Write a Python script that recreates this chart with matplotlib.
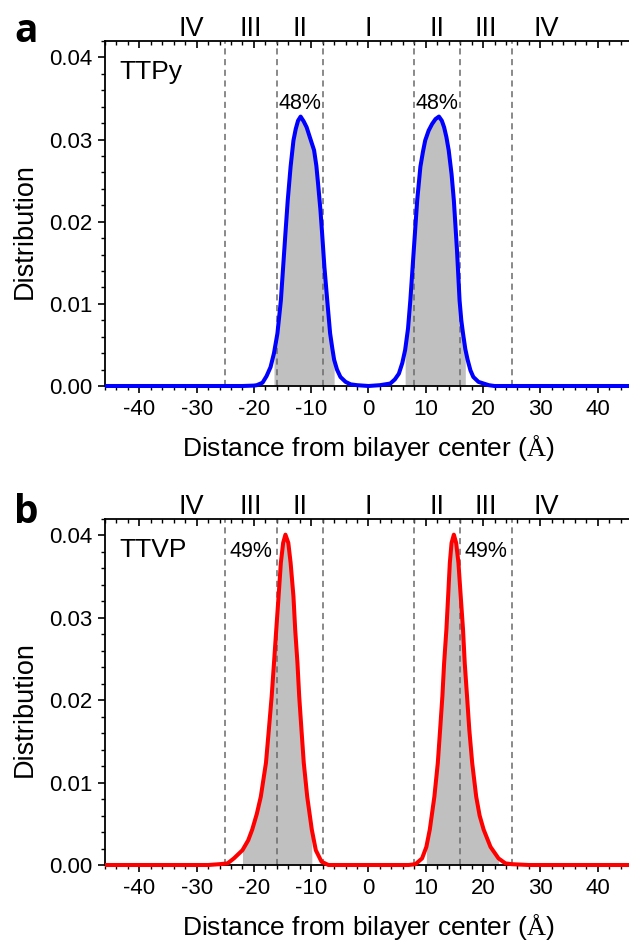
import numpy as np
import matplotlib
matplotlib.use('Agg')
import matplotlib.pyplot as plt
from matplotlib.ticker import MultipleLocator, FormatStrFormatter

plt.rcParams['font.family'] = ['Liberation Sans', 'DejaVu Sans']
plt.rcParams['mathtext.fontset'] = 'custom'
plt.rcParams['mathtext.rm'] = 'Liberation Serif'
plt.rcParams['axes.unicode_minus'] = False

# ---- data ----
# panel a: TTPy
x_a = [-46, -30, -22, -20, -19.5, -18.5, -17.8, -17.1, -16.5, -15.9, -15.3, -14.9, -14.5,
       -14.1, -13.6, -13.1, -12.7, -12.3, -11.85, -11.3, -10.8, -10.2, -9.5, -9.1, -8.8,
       -8.4, -8.1, -7.7, -7.2, -6.7, -6.3, -6.0, -5.5, -4.9, -4.0, -3.1, -2.0, 0,
       2.0, 3.8, 4.6, 5.3, 5.9, 6.4, 6.9, 7.3, 7.9, 8.5, 9.06, 9.5, 9.9, 10.5, 11.1,
       11.7, 12.3, 12.8, 13.2, 13.6, 14.0, 14.5, 14.9, 15.45, 15.9, 16.2, 16.5, 16.9,
       17.3, 17.8, 18.3, 19.2, 20.1, 21.0, 22, 30, 46]
y_a = [0, 0, 0, 0.00005, 0.0001, 0.0004, 0.0012, 0.0023, 0.0040, 0.0064, 0.0104, 0.0145, 0.0186,
       0.0226, 0.0267, 0.0299, 0.0313, 0.0323, 0.0328, 0.0322, 0.0315, 0.0302, 0.0287, 0.0268, 0.0246,
       0.0215, 0.0186, 0.0145, 0.0104, 0.0064, 0.0045, 0.0032, 0.0020, 0.0011, 0.0005, 0.0002, 0.0001, 0,
       0.0001, 0.0003, 0.0008, 0.0015, 0.0028, 0.0044, 0.0070, 0.0104, 0.0165, 0.0226, 0.0267, 0.0285, 0.0299, 0.0311, 0.0319,
       0.0325, 0.0328, 0.0323, 0.0315, 0.0303, 0.0287, 0.0258, 0.0226, 0.0165, 0.0104, 0.0080, 0.0064, 0.0045,
       0.0032, 0.0019, 0.0011, 0.0005, 0.0003, 0.0001, 0, 0, 0]
shade_a = [(-16.6, -5.8), (6.0, 16.9)]
pct_a = ['48%', '48%']
pct_a_x = [-12, 12]
pct_a_y = [0.0344, 0.0344]

# panel b: TTVP
x_b = [-46, -28, -26, -24.6, -23.5, -22.0, -21.0, -20.3, -19.5, -18.8, -17.9, -17.4, -16.9,
       -16.5, -16.1, -15.7, -15.3, -14.9, -14.5, -14.0, -13.6, -13.1, -12.8, -12.4, -12.1,
       -11.7, -11.3, -10.7, -9.9, -9.2, -8.2, -7.0, 0,
       7.0, 8.2, 9.35, 10.1, 10.7, 11.5, 12.1, 12.5, 12.9, 13.2, 13.6, 13.9, 14.2, 14.5,
       14.9, 15.3, 15.7, 16.1, 16.5, 16.8, 17.2, 17.6, 18.1, 18.8, 19.4, 20.1, 21.3, 22.7,
       23.9, 25.0, 28, 46]
y_b = [0, 0, 0.0001, 0.0002, 0.0008, 0.0018, 0.0030, 0.0043, 0.0062, 0.0083, 0.0124, 0.0164, 0.0205,
       0.0245, 0.0286, 0.0326, 0.0367, 0.0391, 0.0401, 0.0391, 0.0367, 0.0326, 0.0286, 0.0245, 0.0205,
       0.0164, 0.0124, 0.0083, 0.0043, 0.0018, 0.0004, 0, 0,
       0, 0.0001, 0.0008, 0.0022, 0.0043, 0.0083, 0.0124, 0.0164, 0.0205, 0.0245, 0.0286, 0.0326, 0.0367, 0.0391,
       0.0401, 0.0391, 0.0367, 0.0326, 0.0286, 0.0245, 0.0205, 0.0164, 0.0124, 0.0083, 0.0060, 0.0043, 0.0022, 0.0008,
       0.0002, 0.0001, 0, 0]
shade_b = [(-22.2, -9.3), (9.6, 22.7)]
pct_b = ['49%', '49%']
pct_b_x = [-20.5, 20.5]
pct_b_y = [0.038, 0.038]

boundaries = [-25, -16, -8, 8, 16, 25]
regions = ['IV', 'III', 'II', 'I', 'II', 'III', 'IV']
region_x = [-31, -20.5, -12, 0, 12, 20.5, 31]

W, H = 629, 943
fig = plt.figure(figsize=(W / 100, H / 100), dpi=100)


def px_axes(left, top, right, bottom):
    return fig.add_axes([left / W, 1 - bottom / H, (right - left) / W, (bottom - top) / H])


def draw_panel(ax, x, y, color, shades, name, pcts, pct_x, pct_y, letter, letter_y):
    x = np.array(x)
    y = np.array(y)
    for lo, hi in shades:
        m = (x >= lo) & (x <= hi)
        ax.fill_between(x[m], 0, y[m], color='#c0c0c0', lw=0, zorder=1)
    for b in boundaries:
        ax.axvline(b, color='#6a6a6a', lw=1.1, ls=(0, (4, 3)), zorder=2)
    ax.plot(x, y, color=color, lw=2.9, zorder=4, clip_on=False, solid_capstyle='butt')

    ax.set_xlim(-46, 46)
    ax.set_ylim(0, 0.042)
    ax.xaxis.set_major_locator(MultipleLocator(10))
    ax.xaxis.set_minor_locator(MultipleLocator(2))
    ax.yaxis.set_major_locator(MultipleLocator(0.01))
    ax.yaxis.set_minor_locator(MultipleLocator(0.002))
    ax.yaxis.set_major_formatter(FormatStrFormatter('%.2f'))
    ax.tick_params(axis='both', which='major', labelsize=16, width=1.2, length=5, direction='out', pad=4)
    ax.tick_params(axis='both', which='minor', width=1.0, length=3, direction='out')
    ax.tick_params(axis='x', which='both', top=True)
    # top ticks point into the frame
    for t in ax.xaxis.get_major_ticks() + ax.xaxis.get_minor_ticks():
        t.tick2line.set_marker(3)
    for s in ax.spines.values():
        s.set_linewidth(1.3)
    ax.spines['right'].set_visible(False)

    ax.set_xlabel(r'Distance from bilayer center ($\mathrm{\AA}$)', fontsize=19, labelpad=10)
    ax.set_ylabel('Distribution', fontsize=19.5)
    ax.yaxis.set_label_coords(-0.127, 0.45)

    ax.text(-43.5, 0.0382, name, fontsize=19, va='center', ha='left')
    for t, tx, ty in zip(pcts, pct_x, pct_y):
        ax.text(tx, ty, t, fontsize=15.5, ha='center', va='center', zorder=5)
    for r, rx in zip(regions, region_x):
        ax.annotate(r, xy=(rx, 1), xycoords=('data', 'axes fraction'), xytext=(0, 3.5),
                    textcoords='offset points', ha='center', va='baseline', fontsize=19.5,
                    annotation_clip=False)
    fig.text(26 / W, 1 - letter_y / H, letter, fontsize=28, fontweight='bold',
             family=['Open Sans', 'DejaVu Sans'], ha='center', va='baseline')


ax_a = px_axes(105, 41, 632, 386)
draw_panel(ax_a, x_a, y_a, '#0000ff', shade_a, 'TTPy', pct_a, pct_a_x, pct_a_y, 'a', 42)

ax_b = px_axes(105, 519, 632, 865)
draw_panel(ax_b, x_b, y_b, '#ff0000', shade_b, 'TTVP', pct_b, pct_b_x, pct_b_y, 'b', 523)

fig.savefig('out.png', dpi=100, facecolor='white')
